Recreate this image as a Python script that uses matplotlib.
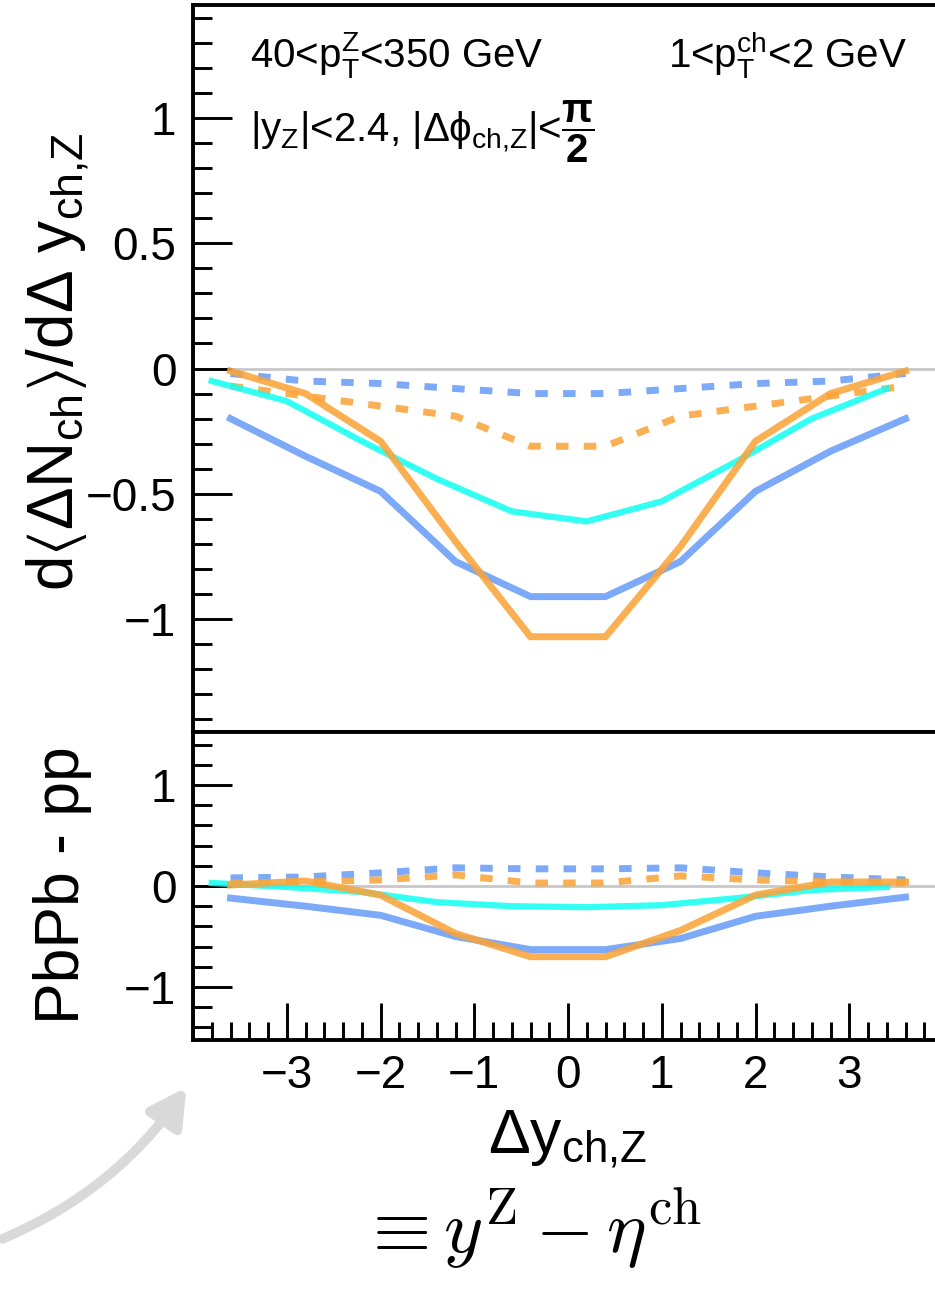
import matplotlib
matplotlib.use("Agg")
from matplotlib import pyplot as plt
from matplotlib.ticker import MultipleLocator, FixedLocator
from matplotlib.patches import FancyArrowPatch

plt.rcParams['font.family'] = ['Liberation Sans', 'DejaVu Sans']
plt.rcParams['mathtext.fontset'] = 'custom'
plt.rcParams['mathtext.rm'] = 'Liberation Sans'
plt.rcParams['mathtext.it'] = 'Liberation Sans'
plt.rcParams['mathtext.bf'] = 'Liberation Sans:bold'
plt.rcParams['mathtext.sf'] = 'Liberation Sans'
plt.rcParams['mathtext.fallback'] = 'stixsans'

# bin centres
x_bins = [-3.6, -2.8, -2.0, -1.2, -0.4, 0.4, 1.2, 2.0, 2.8, 3.6]
x_cyan = [-3.8, -3.0, -2.2, -1.4, -0.6, 0.2, 1.0, 1.8, 2.6, 3.4]

# top panel values
top_blue = [-0.20, -0.35, -0.49, -0.77, -0.91, -0.91, -0.77, -0.49, -0.33, -0.20]
top_orange = [-0.01, -0.10, -0.29, -0.69, -1.07, -1.07, -0.71, -0.29, -0.10, -0.01]
top_cyan = [-0.05, -0.13, -0.29, -0.44, -0.57, -0.61, -0.53, -0.37, -0.20, -0.08]
top_blue_dash = [-0.02, -0.05, -0.06, -0.08, -0.10, -0.10, -0.08, -0.06, -0.05, -0.02]
top_orange_dash = [-0.07, -0.11, -0.15, -0.19, -0.31, -0.31, -0.19, -0.15, -0.11, -0.07]

# bottom panel values (PbPb - pp)
bot_blue = [-0.12, -0.20, -0.29, -0.50, -0.63, -0.63, -0.52, -0.30, -0.20, -0.11]
bot_orange = [0.01, 0.05, -0.09, -0.47, -0.70, -0.70, -0.44, -0.09, 0.04, 0.04]
bot_cyan = [0.03, -0.01, -0.06, -0.16, -0.20, -0.21, -0.19, -0.12, -0.04, -0.01]
bot_blue_dash = [0.08, 0.09, 0.13, 0.18, 0.17, 0.17, 0.18, 0.13, 0.09, 0.06]
bot_orange_dash = [0.03, 0.04, 0.06, 0.11, 0.03, 0.03, 0.10, 0.06, 0.04, 0.03]

xticks = [-3, -2, -1, 0, 1, 2, 3]

blue = '#6a9ef8'
orange = '#faa43a'
cyan = '#10fff2'
lw = 5.0


def fmt(v, p):
    return '%g' % v if v >= 0 else '\u2212%g' % abs(v)


fig = plt.figure(figsize=(9.35, 12.94), dpi=100)
ax1 = fig.add_axes([193 / 935, 1 - 732 / 1294, 750 / 935, 727 / 1294])
ax2 = fig.add_axes([193 / 935, 1 - 1040 / 1294, 750 / 935, 308 / 1294])

for ax, blu, ora, cya, blud, orad in [
        (ax1, top_blue, top_orange, top_cyan, top_blue_dash, top_orange_dash),
        (ax2, bot_blue, bot_orange, bot_cyan, bot_blue_dash, bot_orange_dash)]:
    ax.axhline(0, color='#c8c8c8', lw=2, zorder=1)
    ax.plot(x_bins, blud, color=blue, lw=lw, alpha=0.88, dashes=(1.8, 2.2))
    ax.plot(x_bins, orad, color=orange, lw=lw, alpha=0.88, dashes=(1.8, 2.2))
    ax.plot(x_cyan, cya, color=cyan, lw=lw * 0.9, alpha=0.85)
    ax.plot(x_bins, blu, color=blue, lw=lw, alpha=0.88)
    ax.plot(x_bins, ora, color=orange, lw=lw, alpha=0.88)
    ax.set_xlim(-4, 4)
    for s in ax.spines.values():
        s.set_linewidth(2.8)
    ax.tick_params(axis='both', which='both', direction='in', width=2.1,
                   labelsize=33, top=False, right=False)
    ax.tick_params(axis='y', which='major', length=28, pad=12)
    ax.tick_params(axis='y', which='minor', length=14)

ax1.set_ylim(-1.45, 1.45)
ax1.yaxis.set_major_locator(FixedLocator([-1, -0.5, 0, 0.5, 1]))
ax1.yaxis.set_minor_locator(MultipleLocator(0.1))
ax1.yaxis.set_major_formatter(fmt)
ax1.tick_params(axis='x', which='both', bottom=False, labelbottom=False)

ax2.set_ylim(-1.525, 1.525)
ax2.yaxis.set_major_locator(FixedLocator([-1, 0, 1]))
ax2.yaxis.set_minor_locator(MultipleLocator(0.2))
ax2.yaxis.set_major_formatter(fmt)
ax2.xaxis.set_major_locator(FixedLocator(xticks))
ax2.xaxis.set_minor_locator(MultipleLocator(0.2))
ax2.xaxis.set_major_formatter(fmt)
ax2.tick_params(axis='x', which='major', length=27, pad=10)
ax2.tick_params(axis='x', which='minor', length=13)

# labels
fig.text(57 / 935, 1 - 362 / 1294,
         r'd$\langle\Delta$N$_{\mathrm{ch}}\rangle$/d$\Delta$ y$_{\mathrm{ch{,}Z}}$',
         rotation=90, fontsize=46, ha='center', va='center')
fig.text(63 / 935, 1 - 885 / 1294, 'PbPb - pp', rotation=90, fontsize=45,
         ha='center', va='center')
fig.text(568 / 935, 1 - 1140 / 1294, r'$\Delta$y$_{\mathrm{ch{,}Z}}$', fontsize=45,
         ha='center', va='center')
fig.text(530 / 935, 1 - 1228 / 1294, r'$\equiv y^{\mathrm{Z}} - \eta^{\mathrm{ch}}$',
         fontsize=54, ha='center', va='center', math_fontfamily='cm')

ax1.text(250 / 935, 1 - 55 / 1294, r'40<p$_{\mathrm{T}}^{\mathrm{Z}}$<350 GeV',
         fontsize=29, transform=fig.transFigure, va='center', ha='left')
ax1.text(668 / 935, 1 - 55 / 1294, r'1<p$_{\mathrm{T}}^{\mathrm{ch}}$<2 GeV',
         fontsize=29, transform=fig.transFigure, va='center', ha='left')
ax1.text(250 / 935, 1 - 132 / 1294,
         r'|y$_{\mathrm{Z}}$|<2.4, |$\Delta\phi_{\mathrm{ch{,}Z}}$|<$\mathbf{\dfrac{\pi}{2}}$',
         fontsize=29, transform=fig.transFigure, va='center', ha='left')

# grey arrow
arr = FancyArrowPatch((0 / 935, 1 - 1240 / 1294), (188 / 935, 1 - 1085 / 1294),
                      transform=fig.transFigure, connectionstyle='arc3,rad=0.15',
                      arrowstyle='-|>,head_length=22,head_width=12', lw=7,
                      color='#d9d9d9', mutation_scale=1)
fig.patches.append(arr)

plt.savefig('out.png', dpi=100)
plt.close()
